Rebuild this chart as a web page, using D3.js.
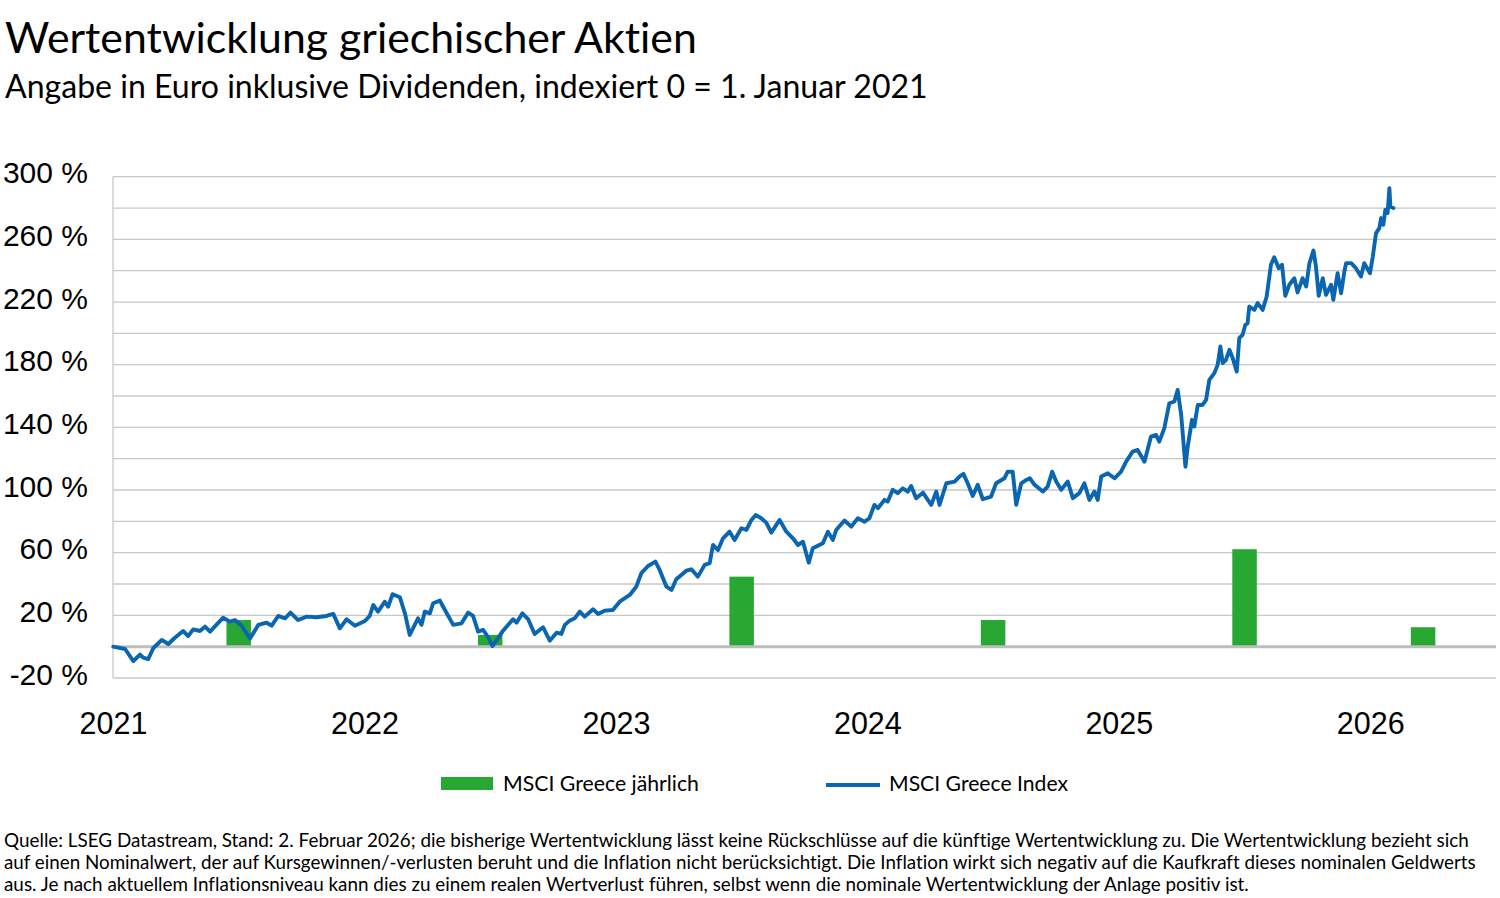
<!DOCTYPE html>
<html>
<head>
<meta charset="utf-8">
<script src="https://cdn.jsdelivr.net/npm/d3@7"></script>
<style>
  html, body { margin: 0; padding: 0; background: #fff; }
  svg { display: block; }
  text { font-variant-ligatures: none; font-feature-settings: "liga" 0, "clig" 0; }
</style>
</head>
<body>
<svg id="chart" width="1500" height="898"></svg>
<script>
// ---------------- DATA ----------------
const titleText = "Wertentwicklung griechischer Aktien";
const subtitleText = "Angabe in Euro inklusive Dividenden, indexiert 0 = 1. Januar 2021";
const footerLines = [
  "Quelle: LSEG Datastream, Stand: 2. Februar 2026; die bisherige Wertentwicklung lässt keine Rückschlüsse auf die künftige Wertentwicklung zu. Die Wertentwicklung bezieht sich",
  "auf einen Nominalwert, der auf Kursgewinnen/-verlusten beruht und die Inflation nicht berücksichtigt. Die Inflation wirkt sich negativ auf die Kaufkraft dieses nominalen Geldwerts",
  "aus. Je nach aktuellem Inflationsniveau kann dies zu einem realen Wertverlust führen, selbst wenn die nominale Wertentwicklung der Anlage positiv ist."
];
const legendLabels = ["MSCI Greece jährlich", "MSCI Greece Index"];

const xTickYears = [2021, 2022, 2023, 2024, 2025, 2026];
const xTickLabels = ["2021", "2022", "2023", "2024", "2025", "2026"];
const yTickValues = [-20, 20, 60, 100, 140, 180, 220, 260, 300];
const yTickLabels = ["-20 %", "20 %", "60 %", "100 %", "140 %", "180 %", "220 %", "260 %", "300 %"];
const yGridValues = [-20, 0, 20, 40, 60, 80, 100, 120, 140, 160, 180, 200, 220, 240, 260, 280, 300];

// annual returns (bars), positioned at mid-year; 2026 = year to date
const barYears = [2021.5, 2022.5, 2023.5, 2024.5, 2025.5, 2026.21];
const barValues = [17.0, 7.5, 44.7, 17.0, 62.2, 12.4];

// MSCI Greece index, % since 1 Jan 2021 (time in decimal years)
const indexYears = [
  2021.001, 2021.048, 2021.081, 2021.107, 2021.120, 2021.140, 2021.160, 2021.194, 2021.220, 2021.246,
  2021.279, 2021.299, 2021.319, 2021.346, 2021.366, 2021.386, 2021.438, 2021.465, 2021.485, 2021.512,
  2021.545, 2021.578, 2021.611, 2021.631, 2021.657, 2021.684, 2021.706, 2021.736, 2021.770, 2021.810,
  2021.849, 2021.876, 2021.902, 2021.929, 2021.962, 2022.002, 2022.021, 2022.035, 2022.054, 2022.081,
  2022.094, 2022.112, 2022.141, 2022.161, 2022.180, 2022.200, 2022.213, 2022.227, 2022.240, 2022.260,
  2022.273, 2022.300, 2022.313, 2022.353, 2022.386, 2022.412, 2022.432, 2022.452, 2022.472, 2022.492,
  2022.509, 2022.531, 2022.551, 2022.591, 2022.605, 2022.628, 2022.651, 2022.677, 2022.710, 2022.737,
  2022.764, 2022.783, 2022.797, 2022.816, 2022.836, 2022.856, 2022.876, 2022.909, 2022.929, 2022.955,
  2022.988, 2023.015, 2023.055, 2023.081, 2023.101, 2023.128, 2023.157, 2023.174, 2023.201, 2023.221,
  2023.240, 2023.280, 2023.300, 2023.326, 2023.353, 2023.373, 2023.386, 2023.406, 2023.426, 2023.452,
  2023.472, 2023.499, 2023.519, 2023.539, 2023.556, 2023.578, 2023.598, 2023.618, 2023.651, 2023.678,
  2023.704, 2023.724, 2023.744, 2023.767, 2023.783, 2023.823, 2023.843, 2023.863, 2023.876, 2023.909,
  2023.936, 2023.962, 2023.989, 2024.008, 2024.028, 2024.042, 2024.068, 2024.081, 2024.101, 2024.121,
  2024.141, 2024.161, 2024.174, 2024.194, 2024.221, 2024.254, 2024.274, 2024.287, 2024.314, 2024.347,
  2024.366, 2024.382, 2024.399, 2024.419, 2024.439, 2024.459, 2024.492, 2024.512, 2024.545, 2024.558,
  2024.578, 2024.592, 2024.612, 2024.632, 2024.646, 2024.665, 2024.698, 2024.717, 2024.735, 2024.751,
  2024.771, 2024.797, 2024.817, 2024.843, 2024.863, 2024.883, 2024.903, 2024.916, 2024.930, 2024.956,
  2024.983, 2025.009, 2025.029, 2025.055, 2025.075, 2025.102, 2025.128, 2025.148, 2025.161, 2025.181,
  2025.201, 2025.221, 2025.234, 2025.248, 2025.265, 2025.274, 2025.291, 2025.300, 2025.314, 2025.333,
  2025.347, 2025.360, 2025.380, 2025.393, 2025.404, 2025.413, 2025.426, 2025.440, 2025.453, 2025.469,
  2025.479, 2025.492, 2025.503, 2025.512, 2025.519, 2025.539, 2025.552, 2025.572, 2025.588, 2025.605,
  2025.618, 2025.636, 2025.649, 2025.662, 2025.678, 2025.698, 2025.711, 2025.731, 2025.745, 2025.758,
  2025.774, 2025.784, 2025.795, 2025.811, 2025.824, 2025.844, 2025.853, 2025.870, 2025.884, 2025.897,
  2025.904, 2025.924, 2025.943, 2025.963, 2025.976, 2025.999, 2026.010, 2026.023, 2026.036, 2026.043,
  2026.052, 2026.060, 2026.069, 2026.076, 2026.080, 2026.092
];
const indexValues = [
  0.0, -1.5, -9.2, -5.0, -7.0, -8.0, -1.0, 4.3, 1.7, 5.7,
  10.0, 6.8, 11.0, 10.0, 12.8, 9.6, 18.5, 16.0, 17.0, 13.2,
  5.3, 13.9, 15.3, 13.4, 19.6, 18.1, 21.7, 17.0, 19.2, 18.8,
  19.6, 20.9, 11.7, 17.5, 13.4, 16.4, 19.6, 26.6, 22.4, 28.7,
  25.5, 33.5, 31.5, 21.3, 7.5, 13.9, 18.1, 13.9, 22.4, 21.3,
  27.7, 29.4, 25.5, 13.9, 14.9, 21.7, 19.6, 9.6, 10.7, 6.0,
  0.4, 5.3, 10.2, 17.5, 15.3, 21.3, 17.5, 8.1, 12.4, 3.8,
  8.9, 8.1, 13.9, 16.6, 18.1, 22.4, 19.2, 23.9, 20.9, 23.0,
  23.4, 28.7, 33.0, 38.3, 46.9, 51.5, 54.3, 49.0, 38.3, 36.2,
  43.0, 48.5, 49.4, 44.7, 52.2, 53.3, 64.9, 61.7, 69.2, 73.4,
  68.1, 75.6, 74.5, 80.9, 84.1, 82.0, 79.2, 72.8, 80.9, 73.4,
  69.2, 64.9, 67.0, 53.6, 62.8, 66.0, 73.4, 68.1, 74.5, 80.5,
  76.6, 82.0, 79.8, 82.0, 90.5, 88.4, 93.7, 92.6, 100.1, 98.0,
  101.1, 99.0, 102.6, 94.8, 98.3, 90.5, 99.0, 90.5, 104.3, 105.4,
  108.6, 110.3, 104.3, 96.2, 103.3, 94.1, 95.8, 104.3, 107.5, 111.7,
  111.7, 90.5, 104.3, 106.4, 107.5, 103.3, 99.0, 102.2, 111.7, 105.4,
  100.1, 105.4, 94.8, 98.0, 104.3, 93.7, 99.0, 93.7, 108.6, 110.7,
  107.5, 111.7, 118.1, 124.5, 125.6, 118.1, 134.1, 135.2, 130.9, 139.5,
  155.4, 156.5, 163.9, 148.0, 114.9, 127.7, 144.8, 140.5, 154.3, 154.3,
  157.5, 170.3, 174.6, 179.9, 191.6, 181.0, 183.1, 189.5, 184.2, 175.6,
  196.9, 199.0, 205.4, 206.5, 217.1, 215.0, 219.3, 215.0, 223.5, 243.8,
  248.6, 241.6, 243.8, 223.9, 231.0, 235.2, 226.1, 235.2, 229.9, 244.8,
  252.9, 242.6, 223.9, 235.2, 224.6, 231.0, 221.4, 238.4, 225.6, 239.5,
  244.8, 244.8, 241.6, 236.3, 244.8, 238.4, 249.0, 264.0, 267.2, 273.6,
  269.3, 278.9, 276.8, 292.7, 281.0, 280.0
];

// ---------------- STYLE ----------------
const blue = "#0a66b0";
const green = "#28a832";
const gridColor = "#c8c8c8";
const zeroColor = "#bdbdbd";
const humanist = "Lato, 'Open Sans', 'Noto Sans', sans-serif";
const axisFont = "'Liberation Sans', Arial, sans-serif";

const svg = d3.select("#chart");
const plot = { left: 113, right: 1496, top: 176.7, bottom: 678 };

const x = d3.scaleLinear().domain([2021, 2026.5]).range([plot.left, plot.right]);
const y = d3.scaleLinear().domain([-20, 300]).range([plot.bottom, plot.top]);

function fitWidth(sel, w) {
  const n = sel.node();
  const cur = n.getComputedTextLength();
  const fs = parseFloat(sel.attr("font-size"));
  if (cur > 0) sel.attr("font-size", (fs * w / cur).toFixed(2));
  return sel;
}

// Title & subtitle
fitWidth(svg.append("text").attr("x", 5).attr("y", 53)
  .attr("font-family", humanist).attr("font-size", 37).attr("fill", "#000")
  .text(titleText), 692);
fitWidth(svg.append("text").attr("x", 5).attr("y", 98)
  .attr("font-family", humanist).attr("font-size", 28).attr("fill", "#000")
  .text(subtitleText), 923);

// Gridlines
svg.append("g").selectAll("line").data(yGridValues.filter(v => v !== 0)).join("line")
  .attr("x1", plot.left).attr("x2", plot.right)
  .attr("y1", d => y(d)).attr("y2", d => y(d))
  .attr("stroke", gridColor).attr("stroke-width", 1.3);

// Left axis line
svg.append("line")
  .attr("x1", plot.left).attr("x2", plot.left)
  .attr("y1", plot.top).attr("y2", plot.bottom)
  .attr("stroke", gridColor).attr("stroke-width", 1.3);

// Bars
const barW = 24.5;
svg.append("g").selectAll("rect").data(barValues).join("rect")
  .attr("x", (d, i) => x(barYears[i]) - barW / 2)
  .attr("width", barW)
  .attr("y", d => y(Math.max(0, d)))
  .attr("height", d => Math.abs(y(d) - y(0)))
  .attr("fill", green);

// Zero line
svg.append("line")
  .attr("x1", plot.left).attr("x2", plot.right)
  .attr("y1", y(0)).attr("y2", y(0))
  .attr("stroke", zeroColor).attr("stroke-width", 3);

// Index line
const lineData = indexYears.map((t, i) => [t, indexValues[i]]);
svg.append("path").datum(lineData)
  .attr("fill", "none").attr("stroke", blue).attr("stroke-width", 3.9)
  .attr("stroke-linejoin", "round").attr("stroke-linecap", "round")
  .attr("d", d3.line().x(d => x(d[0])).y(d => y(d[1])));

// Y axis labels
const yAxis = d3.axisLeft(y).tickValues(yTickValues)
  .tickFormat((d, i) => yTickLabels[i]).tickSize(0).tickPadding(0);
const gy = svg.append("g").attr("transform", "translate(88,0)").call(yAxis);
gy.select(".domain").remove();
gy.selectAll("text").attr("font-family", axisFont).attr("font-size", 30)
  .attr("fill", "#000").attr("dy", "0.2em");

// X axis labels
const xAxis = d3.axisBottom(x).tickValues(xTickYears)
  .tickFormat((d, i) => xTickLabels[i]).tickSize(0).tickPadding(0);
const gx = svg.append("g").attr("transform", "translate(0,712)").call(xAxis);
gx.select(".domain").remove();
gx.selectAll("text").attr("font-family", axisFont).attr("font-size", 30.5)
  .attr("fill", "#000").attr("dy", "0.72em");

// Legend
svg.append("rect").attr("x", 441).attr("y", 777).attr("width", 52).attr("height", 13).attr("fill", green);
fitWidth(svg.append("text").attr("x", 503).attr("y", 791)
  .attr("font-family", humanist).attr("font-size", 22).attr("fill", "#000")
  .text(legendLabels[0]), 196);
svg.append("line").attr("x1", 826).attr("x2", 880).attr("y1", 785).attr("y2", 785)
  .attr("stroke", blue).attr("stroke-width", 4);
fitWidth(svg.append("text").attr("x", 889).attr("y", 791)
  .attr("font-family", humanist).attr("font-size", 22).attr("fill", "#000")
  .text(legendLabels[1]), 179);

// Footer
const footerWidths = [1465, 1473, 1246];
footerLines.forEach((t, i) => {
  fitWidth(svg.append("text").attr("x", 4).attr("y", 847 + i * 22)
    .attr("font-family", humanist).attr("font-size", 19).attr("fill", "#000")
    .text(t), footerWidths[i]);
});
</script>
</body>
</html>
